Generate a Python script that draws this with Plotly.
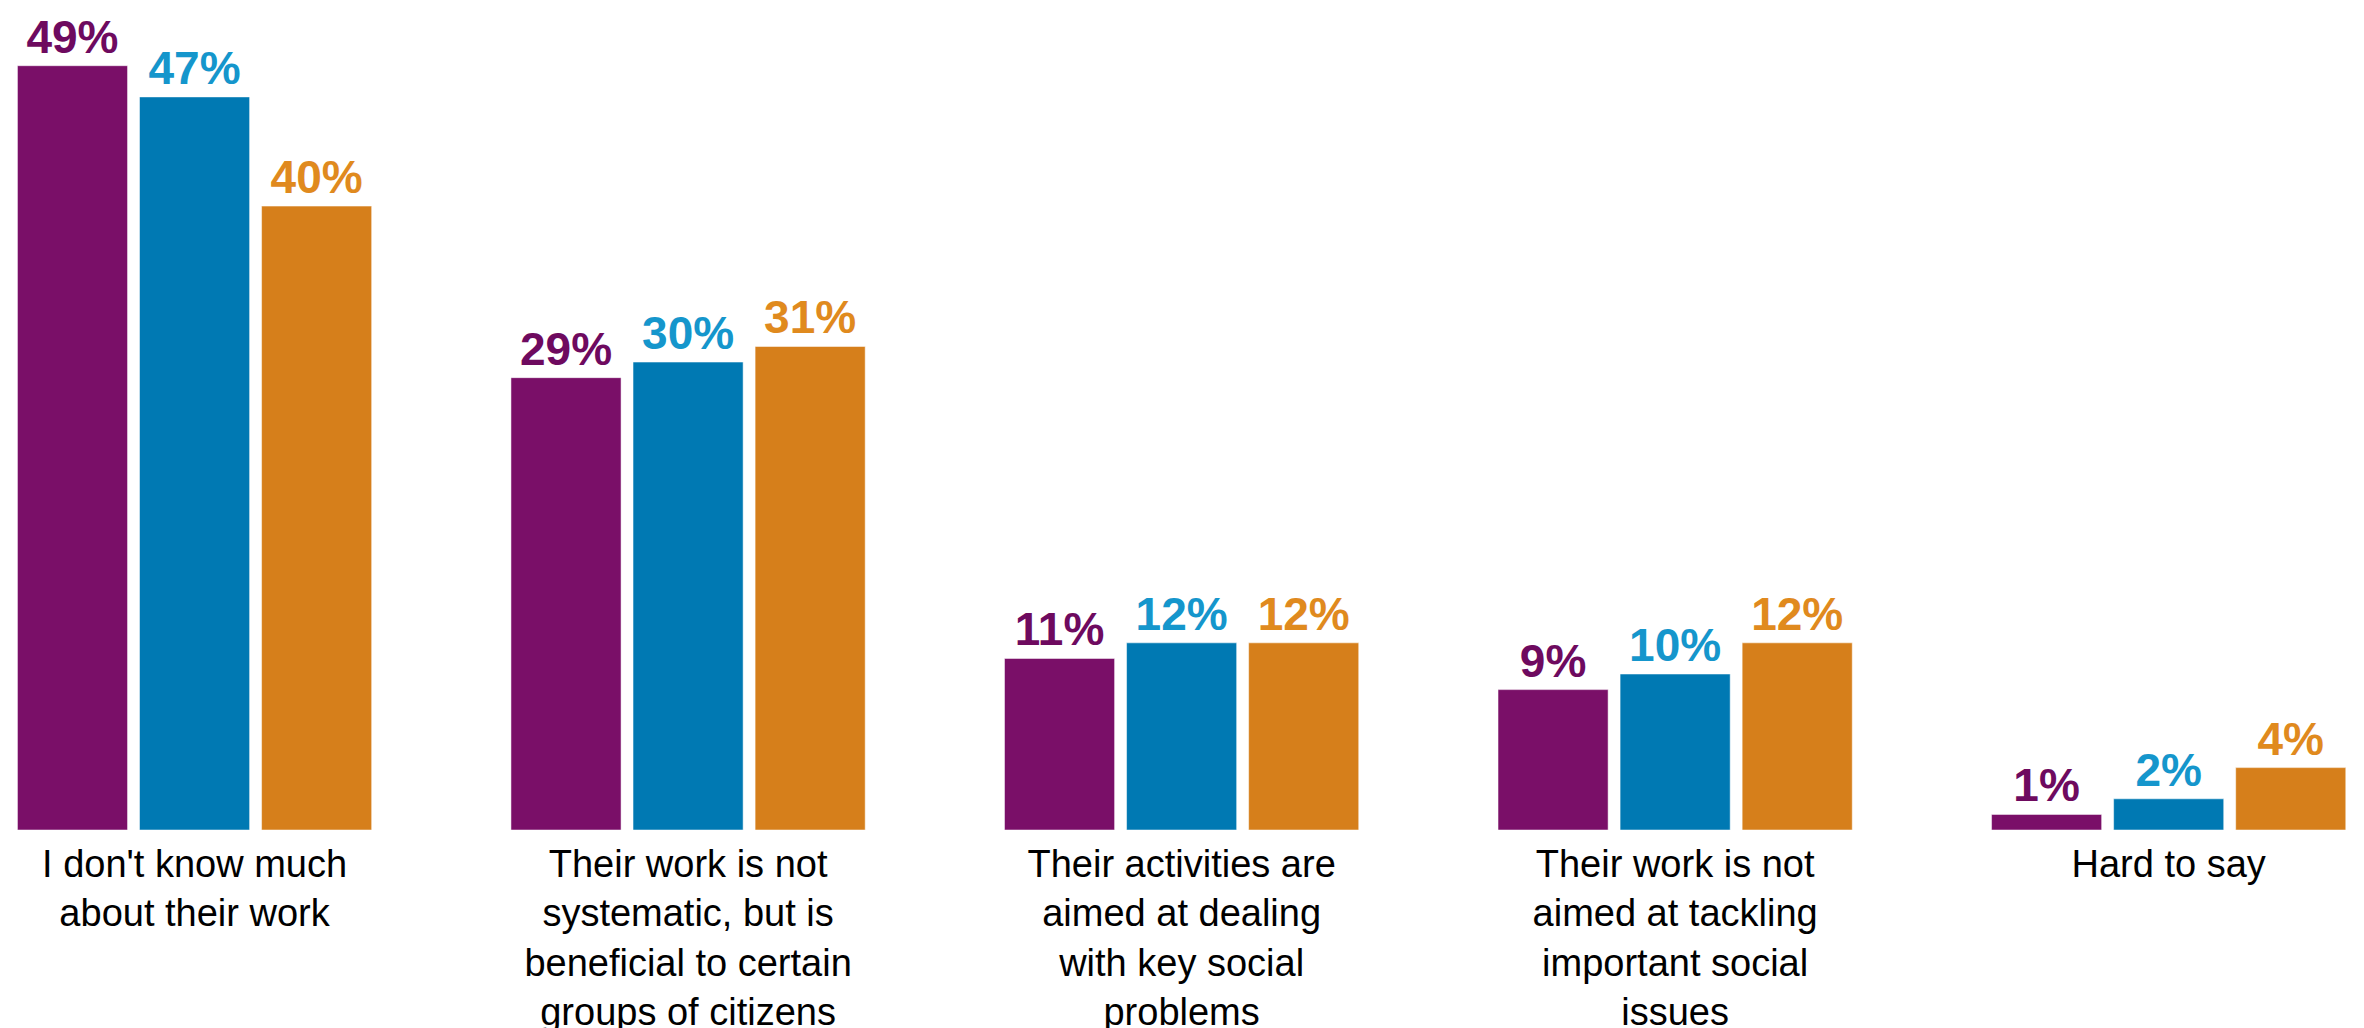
import plotly.graph_objects as go

categories = [
    "I don't know much<br>about their work",
    "Their work is not<br>systematic, but is<br>beneficial to certain<br>groups of citizens",
    "Their activities are<br>aimed at dealing<br>with key social<br>problems",
    "Their work is not<br>aimed at tackling<br>important social<br>issues",
    "Hard to say",
]
series_names = ["Series 1", "Series 2", "Series 3"]
values_1 = [49, 29, 11, 9, 1]
values_2 = [47, 30, 12, 10, 2]
values_3 = [40, 31, 12, 12, 4]

bar_colors = ["#7A0F68", "#0079B3", "#D67F1B"]
text_colors = ["#6E0A5F", "#1596CC", "#E08A1E"]

fig = go.Figure()
for name, vals, bc, tc in zip(series_names, [values_1, values_2, values_3], bar_colors, text_colors):
    fig.add_trace(go.Bar(
        x=list(range(len(categories))),
        y=vals,
        name=name,
        marker=dict(color=bc, line=dict(color="rgba(255,255,255,0.5)", width=1)),
        text=[f"{v}%" for v in vals],
        textposition="outside",
        constraintext="none",
        textfont=dict(family="Liberation Sans, Arial, sans-serif", size=46, color=tc, weight="bold"),
        cliponaxis=False,
    ))

fig.update_layout(
    width=2364, height=1028,
    barmode="group",
    bargap=0.258,
    bargroupgap=0.098,
    showlegend=False,
    plot_bgcolor="white",
    paper_bgcolor="white",
    margin=dict(l=0, r=0, t=0, b=206),
    font=dict(family="Liberation Sans, Arial, sans-serif", color="black"),
)
fig.update_xaxes(
    range=[-0.378, 4.412],
    tickmode="array",
    tickvals=list(range(len(categories))),
    ticktext=categories,
    tickfont=dict(size=38, color="black"),
    ticklabelstandoff=8,
    showgrid=False, zeroline=False, showline=False, ticks="",
    tickangle=0,
)
fig.update_yaxes(range=[0, 52.7], visible=False, showgrid=False, zeroline=False)

fig.write_html("out.html")
